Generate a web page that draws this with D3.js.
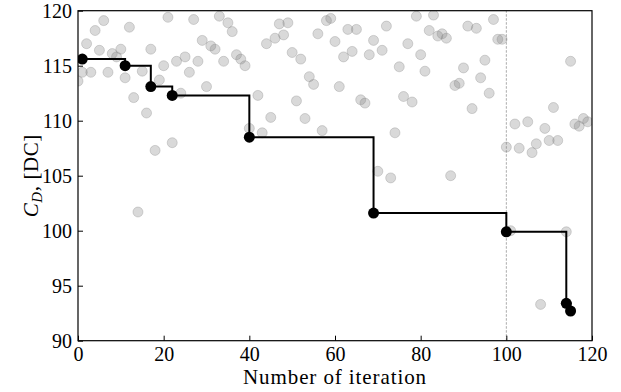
<!DOCTYPE html>
<html>
<head>
<meta charset="utf-8">
<script src="https://cdn.jsdelivr.net/npm/d3@7"></script>
<style>
  html, body { margin: 0; padding: 0; background: #fff; }
  svg { display: block; }
  text { font-family: "Liberation Serif", "DejaVu Serif", serif; fill: #000; }
</style>
</head>
<body>
<svg id="chart" width="621" height="392"></svg>
<script>
// Every evaluated design: iteration number and drag coefficient (drag counts)
const evalIter = [4, 6, 12, 21, 27, 33, 35, 36, 2, 5, 8, 10, 9, 17, 29, 31, 32, 37, 38, 39,
  34, 28, 25, 23, 20, 26, 15, 11, 7, 3, 1, 0, 19, 30, 24, 13, 16, 44, 46, 47,
  49, 48, 50, 52, 56, 58, 59, 60, 63, 65, 62, 64, 68, 69, 71, 72, 77, 79, 80, 75,
  54, 55, 61, 42, 51, 66, 67, 76, 78, 45, 53, 83, 82, 84, 85, 86, 91, 93, 97, 98,
  99, 81, 90, 95, 94, 88, 89, 96, 92, 115, 111, 102, 105, 109, 116, 117, 118, 119, 100, 103,
  106, 107, 110, 112, 87, 101, 114, 108, 22, 18, 14, 40, 43, 57, 74, 70, 73];
const evalCD = [118.2, 119.1, 118.5, 119.4, 119.2, 119.5, 118.9, 118.1, 117.0, 116.4, 116.1, 116.5, 115.8, 116.5, 117.3, 116.8, 116.5, 116.0, 115.6, 115.0,
  115.4, 115.4, 115.8, 115.4, 115.0, 114.4, 114.5, 113.9, 114.4, 114.4, 114.4, 113.6, 113.7, 113.1, 112.5, 112.1, 110.7, 117.0, 117.5, 118.8,
  118.9, 117.8, 116.2, 115.6, 117.9, 119.1, 119.3, 117.2, 118.3, 118.3, 115.8, 116.3, 116.0, 117.3, 116.4, 118.6, 117.0, 119.5, 116.0, 114.9,
  114.0, 113.3, 113.1, 112.3, 111.8, 111.9, 111.6, 112.2, 111.7, 110.3, 110.2, 119.6, 118.2, 117.7, 117.9, 117.5, 118.6, 118.4, 119.2, 117.4,
  117.4, 114.5, 114.8, 115.5, 113.9, 113.2, 113.4, 112.5, 111.1, 115.4, 111.2, 109.7, 109.9, 109.3, 109.7, 109.5, 110.2, 109.9, 107.6, 107.5,
  107.1, 107.9, 108.2, 108.2, 105.0, 100.0, 99.9, 93.3, 108.0, 107.3, 101.7, 109.3, 108.9, 109.1, 108.9, 105.4, 104.8];

// Running best design found so far
const bestIter = [1, 11, 17, 22, 40, 69, 100, 114, 115];
const bestCD = [115.6, 115.0, 113.1, 112.3, 108.5, 101.6, 99.9, 93.4, 92.7];

const xTicks = [0, 20, 40, 60, 80, 100, 120];
const yTicks = [90, 95, 100, 105, 110, 115, 120];
const markerIter = 100;

const W = 621, H = 392;
const margin = { left: 78, right: 29, top: 10.7, bottom: 51.3 };
const svg = d3.select("#chart");

const x = d3.scaleLinear().domain([0, 120]).range([margin.left, W - margin.right]);
const y = d3.scaleLinear().domain([90, 120]).range([H - margin.bottom, margin.top]);

svg.append("clipPath").attr("id", "plotclip")
  .append("rect")
  .attr("x", margin.left).attr("y", margin.top)
  .attr("width", W - margin.left - margin.right)
  .attr("height", H - margin.top - margin.bottom);

const plot = svg.append("g").attr("clip-path", "url(#plotclip)");

// vertical reference line
plot.append("line")
  .attr("x1", x(markerIter)).attr("x2", x(markerIter))
  .attr("y1", y(90)).attr("y2", y(120))
  .attr("stroke", "#aaa").attr("stroke-width", 1)
  .attr("stroke-dasharray", "2.5,1.5");

// all evaluations
plot.append("g").selectAll("circle")
  .data(evalIter.map((it, i) => [it, evalCD[i]]))
  .join("circle")
  .attr("cx", d => x(d[0]))
  .attr("cy", d => y(d[1]))
  .attr("r", 5)
  .attr("fill", "#808080").attr("fill-opacity", 0.3)
  .attr("stroke", "#808080").attr("stroke-opacity", 0.3).attr("stroke-width", 1);

// best-so-far staircase
const best = bestIter.map((it, i) => [it, bestCD[i]]);
plot.append("path")
  .datum(best)
  .attr("fill", "none")
  .attr("stroke", "#000")
  .attr("stroke-width", 2)
  .attr("d", d3.line().x(d => x(d[0])).y(d => y(d[1])).curve(d3.curveStepAfter));

plot.append("g").selectAll("circle")
  .data(best)
  .join("circle")
  .attr("cx", d => x(d[0]))
  .attr("cy", d => y(d[1]))
  .attr("r", 5.5)
  .attr("fill", "#000");

// axes with inward ticks
const xAxis = svg.append("g")
  .attr("transform", `translate(0,${y(90)})`)
  .call(d3.axisBottom(x).tickValues(xTicks).tickSize(-5).tickPadding(6));
const yAxis = svg.append("g")
  .attr("transform", `translate(${x(0)},0)`)
  .call(d3.axisLeft(y).tickValues(yTicks).tickSize(-5).tickPadding(6));

[xAxis, yAxis].forEach(g => {
  g.select(".domain").remove();
  g.selectAll(".tick line").attr("stroke", "#000").attr("stroke-width", 1);
  g.selectAll(".tick text")
    .attr("font-family", "'Liberation Serif', serif")
    .attr("font-size", 20).attr("fill", "#000");
});
yAxis.selectAll(".tick text").attr("dy", "0.34em");

// frame
svg.append("rect")
  .attr("x", x(0)).attr("y", y(120))
  .attr("width", x(120) - x(0)).attr("height", y(90) - y(120))
  .attr("fill", "none").attr("stroke", "#000").attr("stroke-width", 1.2);

// axis titles
svg.append("text")
  .attr("x", (x(0) + x(120)) / 2).attr("y", 384)
  .attr("text-anchor", "middle").attr("font-size", 21)
  .attr("letter-spacing", 0.9)
  .text("Number of iteration");

const yl = svg.append("text")
  .attr("transform", `translate(38,${(y(90) + y(120)) / 2}) rotate(-90)`)
  .attr("text-anchor", "middle").attr("font-size", 21)
  .attr("letter-spacing", 0.6);
yl.append("tspan").attr("font-style", "italic").text("C");
yl.append("tspan").attr("font-style", "italic").attr("font-size", 15).attr("dy", 4).text("D");
yl.append("tspan").attr("dy", -4).text(", [DC]");
</script>
</body>
</html>
